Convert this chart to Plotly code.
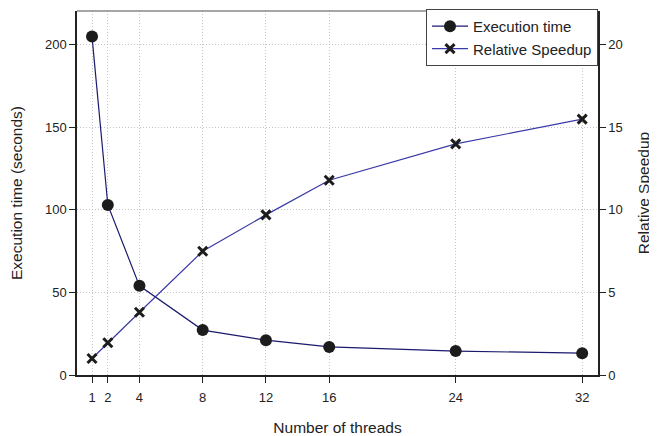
import plotly.graph_objects as go

threads = [1, 2, 4, 8, 12, 16, 24, 32]
exec_time = [205, 103, 54, 27.2, 21.1, 17, 14.5, 13.2]
speedup = [1.0, 1.95, 3.8, 7.5, 9.7, 11.8, 14.0, 15.5]
x_ticks = [1, 2, 4, 8, 12, 16, 24, 32]
y1_ticks = [0, 50, 100, 150, 200]
y2_ticks = [0, 5, 10, 15, 20]

fig = go.Figure()
fig.add_trace(go.Scatter(
    x=threads, y=exec_time, name="Execution time", mode="lines+markers",
    line=dict(color="#1a1a6e", width=1.2),
    marker=dict(symbol="circle", size=12, color="#1c1c1c"),
))
fig.add_trace(go.Scatter(
    x=threads, y=speedup, name="Relative Speedup", mode="lines+markers", yaxis="y2",
    line=dict(color="#3a3aa8", width=1.2),
    marker=dict(symbol="x-thin", size=9, color="#1c1c1c",
                line=dict(width=3, color="#1c1c1c")),
))

# page body has an 8px margin, so the figure is sized/offset to compensate
font_family = "Liberation Sans, Arial, sans-serif"
grid = dict(showgrid=True, gridcolor="#c4c4c4", griddash="1px,2px", gridwidth=1)
fig.update_layout(
    width=649, height=428,
    margin=dict(l=69, r=59, t=2, b=61),
    paper_bgcolor="white", plot_bgcolor="white",
    font=dict(family=font_family, size=13, color="#222222"),
    showlegend=True,
    legend=dict(x=1, y=1.003, xanchor="right", yanchor="top",
                bordercolor="#444444", borderwidth=1, bgcolor="white",
                font=dict(size=15), tracegroupgap=0, itemwidth=36),
    xaxis=dict(
        range=[0.05, 33.0], tickvals=x_ticks, ticktext=[str(t) for t in x_ticks],
        **grid,
        showline=True, linecolor="#222222", linewidth=1.5,
        ticks="outside", ticklen=6, tickcolor="#222222",
        zeroline=False, mirror=False, automargin=False, ticklabelstandoff=4,
        title=dict(text="Number of threads", font=dict(size=15.5), standoff=20),
        tickfont=dict(size=13),
    ),
    yaxis=dict(
        range=[0, 220.5], tickvals=y1_ticks,
        **grid,
        showline=True, linecolor="#222222", linewidth=1.5,
        ticks="outside", ticklen=6, tickcolor="#222222",
        zeroline=False, automargin=False,
        title=dict(text="Execution time (seconds)", font=dict(size=15.5), standoff=19),
        tickfont=dict(size=13),
    ),
    yaxis2=dict(
        range=[0, 22.05], tickvals=y2_ticks, overlaying="y", side="right",
        showgrid=False, showline=True, linecolor="#222222", linewidth=1.5,
        ticks="outside", ticklen=6, tickcolor="#222222", zeroline=False,
        automargin=False,
        title=dict(text="Relative Speedup", font=dict(size=15.5), standoff=16),
        tickfont=dict(size=13),
    ),
    shapes=[dict(type="line", xref="paper", yref="paper", x0=0, x1=1, y0=1, y1=1,
                 line=dict(color="#888888", width=1.5))],
)

fig.write_html("out.html")
